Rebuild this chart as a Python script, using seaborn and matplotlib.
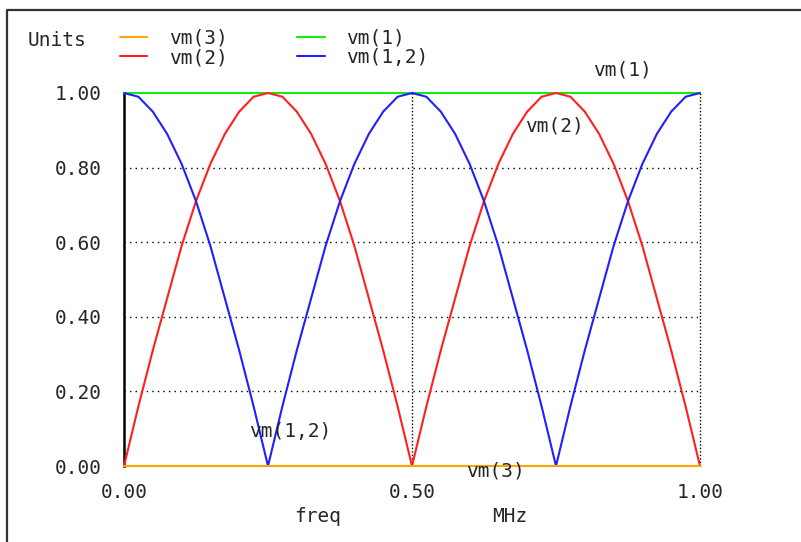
import numpy as np
import pandas as pd
import matplotlib.pyplot as plt
from matplotlib.lines import Line2D
import seaborn as sns

sns.set_style("white")
plt.rcParams['font.family'] = ['DejaVu Sans Mono']

# frequency in MHz, step 0.025
freq = [0.000, 0.025, 0.050, 0.075, 0.100, 0.125, 0.150, 0.175, 0.200, 0.225,
        0.250, 0.275, 0.300, 0.325, 0.350, 0.375, 0.400, 0.425, 0.450, 0.475,
        0.500, 0.525, 0.550, 0.575, 0.600, 0.625, 0.650, 0.675, 0.700, 0.725,
        0.750, 0.775, 0.800, 0.825, 0.850, 0.875, 0.900, 0.925, 0.950, 0.975,
        1.000]
vm2 = [0.00, 0.16, 0.31, 0.45, 0.59, 0.71, 0.81, 0.89, 0.95, 0.99,
       1.00, 0.99, 0.95, 0.89, 0.81, 0.71, 0.59, 0.45, 0.31, 0.16,
       0.00, 0.16, 0.31, 0.45, 0.59, 0.71, 0.81, 0.89, 0.95, 0.99,
       1.00, 0.99, 0.95, 0.89, 0.81, 0.71, 0.59, 0.45, 0.31, 0.16,
       0.00]
vm12 = [1.00, 0.99, 0.95, 0.89, 0.81, 0.71, 0.59, 0.45, 0.31, 0.16,
        0.00, 0.16, 0.31, 0.45, 0.59, 0.71, 0.81, 0.89, 0.95, 0.99,
        1.00, 0.99, 0.95, 0.89, 0.81, 0.71, 0.59, 0.45, 0.31, 0.16,
        0.00, 0.16, 0.31, 0.45, 0.59, 0.71, 0.81, 0.89, 0.95, 0.99,
        1.00]
vm1 = [1.00] * len(freq)
vm3 = [0.00] * len(freq)

yticks = [0.0, 0.2, 0.4, 0.6, 0.8, 1.0]
xticks = [0.0, 0.5, 1.0]

df = pd.DataFrame({'freq': freq, 'vm(1)': vm1, 'vm(2)': vm2,
                   'vm(1,2)': vm12, 'vm(3)': vm3})
colors = {'vm(3)': '#ffa500', 'vm(1)': '#11ee11',
          'vm(2)': '#ff1f1f', 'vm(1,2)': '#1f1fff'}

FS = 14
W, H = 801, 542
fig = plt.figure(figsize=(W / 100, H / 100), dpi=100)
ax = fig.add_axes([124 / W, 1 - 466 / H, 576 / W, 373 / H])

# outer frame (cut at right/bottom like the original)
fig.add_artist(Line2D([7 / W, 7 / W, 1.0], [0.0, 1 - 10 / H, 1 - 10 / H],
                      transform=fig.transFigure, color='#333333', lw=1.6))

for yv in yticks[1:-1]:
    ax.axhline(yv, color='black', lw=1, ls=(0, (1, 3)), zorder=1)
for xv in xticks[1:]:
    ax.axvline(xv, color='black', lw=1, ls=(0, (1, 1.5)), zorder=1, clip_on=False)

for name in ['vm(1)', 'vm(2)', 'vm(1,2)', 'vm(3)']:
    sns.lineplot(data=df, x='freq', y=name, color=colors[name], lw=1.5,
                 ax=ax, clip_on=False, zorder=3)

ax.set_xlim(0, 1)
ax.set_ylim(0, 1)
ax.set_xticks(xticks)
ax.set_xticklabels([f"{v:.2f}" for v in xticks])
ax.set_yticks(yticks)
ax.set_yticklabels([f"{v:.2f}" for v in yticks])
ax.tick_params(length=0, labelsize=FS, pad=16)
ax.tick_params(axis='x', pad=12)
for lbl in ax.get_xticklabels():
    lbl.set_x(lbl.get_position()[0])
ax.set_xlabel('')
ax.set_ylabel('')
for s in ['top', 'right', 'bottom']:
    ax.spines[s].set_visible(False)
ax.spines['left'].set_color('black')
ax.spines['left'].set_linewidth(1.8)
ax.spines['left'].set_zorder(2)
ax.patch.set_alpha(0)

# trace labels
ax.text(0.865, 1.062, 'vm(1)', fontsize=FS, ha='center', va='center', clip_on=False)
ax.text(0.748, 0.912, 'vm(2)', fontsize=FS, ha='center', va='center')
ax.text(0.288, 0.093, 'vm(1,2)', fontsize=FS, ha='center', va='center')
ax.text(0.644, -0.013, 'vm(3)', fontsize=FS, ha='center', va='center', clip_on=False)

# axis captions
fig.text(318 / W, 1 - 517 / H, 'freq', fontsize=FS, ha='center', va='center')
fig.text(510 / W, 1 - 517 / H, 'MHz', fontsize=FS, ha='center', va='center')

# legend
fig.text(28 / W, 1 - 41 / H, 'Units', fontsize=FS, ha='left', va='center')
order = ['vm(3)', 'vm(2)', 'vm(1)', 'vm(1,2)']
handles = [Line2D([], [], color=colors[n], lw=1.5) for n in order]
fig.legend(handles, order, ncol=2, frameon=False, fontsize=FS,
           loc='upper left', bbox_to_anchor=(120 / W, 1 - 29 / H),
           handlelength=1.4, handletextpad=1.1, columnspacing=3.6,
           labelspacing=0.0, borderaxespad=0, borderpad=0)

fig.savefig('out.png', dpi=100)
